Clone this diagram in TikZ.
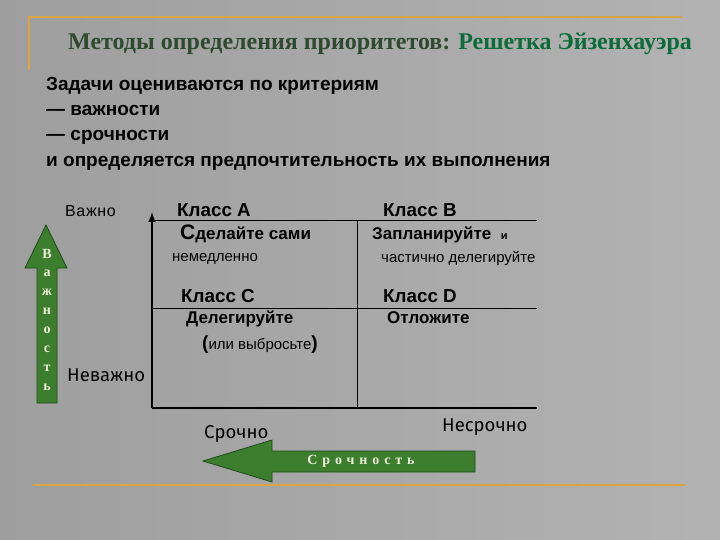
\documentclass[tikz,border=0pt]{standalone}
\usepackage{fontspec}
\setmainfont{Liberation Serif}
\setsansfont{Liberation Sans}
\newfontfamily\handfont{Fira Sans}

\definecolor{gold}{HTML}{D9A441}
\definecolor{arrowgreen}{HTML}{3D7D2E}
\definecolor{arrowedge}{HTML}{1E4A1A}
\definecolor{titledark}{HTML}{2F4A30}
\definecolor{titlegreen}{HTML}{0B6B3A}
\definecolor{lettercream}{HTML}{EEF0D8}

\begin{document}
\begin{tikzpicture}[x=1pt,y=-1pt]

  \tikzstyle{frame}=[line width=2.5pt, gold]
  \tikzstyle{body}=[font=\sffamily\bfseries\fontsize{19}{21}\selectfont, anchor=base west, inner sep=0]
  \tikzstyle{klass}=[font=\sffamily\bfseries\fontsize{18.8}{20}\selectfont, anchor=base west, inner sep=0]
  \tikzstyle{action}=[font=\sffamily\bfseries\fontsize{17}{19}\selectfont, anchor=base west, inner sep=0]
  \tikzstyle{note}=[font=\sffamily\fontsize{15}{17}\selectfont, anchor=base west, inner sep=0]
  \tikzstyle{hand}=[font=\handfont\fontsize{18.5}{20}\selectfont, anchor=base west, inner sep=0]
  \tikzstyle{axis}=[line width=2.4pt]
  \tikzstyle{cell}=[line width=1pt]
  \tikzstyle{bigarrow}=[fill=arrowgreen, draw=arrowedge, line width=0.8pt]

  \useasboundingbox (0,0) rectangle (720,540);
  \shade[left color=black!38, middle color=black!8, right color=black!30] (0,0) rectangle (720,540);

  % frame lines
  \draw[frame] (29,70) -- (29,17) -- (682,17);
  \draw[frame] (33,485) -- (686,485);

  % title
  \node[anchor=base west, inner sep=0, font=\bfseries\fontsize{24}{26}\selectfont] (title) at (68,50)
    {\textcolor{titledark}{Методы определения приоритетов:} \textcolor{titlegreen}{Решетка Эйзенхауэра}};

  % criteria text
  \node[body] (line1) at (46,91) {Задачи оцениваются по критериям};
  \node[body] (line2) at (46,116) {— важности};
  \node[body] (line3) at (46,141) {— срочности};
  \node[body] (line4) at (46,167) {и определяется предпочтительность их выполнения};

  % grid
  \coordinate (origin) at (152,408);
  \coordinate (top) at (152,212);
  \coordinate (right) at (537,408);
  \coordinate (rowtop) at (537,221);
  \coordinate (rowmid) at (537,308);
  \coordinate (coltop) at (357,221);
  \draw[axis,-latex] (origin) -- (top);
  \draw[axis] (origin) -- (right);
  \draw[cell] (origin |- rowtop) -- (rowtop);
  \draw[cell] (origin |- rowmid) -- (rowmid);
  \draw[cell] (coltop) -- (coltop |- origin);

  % cells
  \node[klass] (classA) at (177,216) {Класс A};
  \node[klass] (classB) at (383,216) {Класс B};
  \node[action] (doA) at (180,240) {{\fontsize{21}{22}\selectfont С}делайте сами};
  \node[note] (nowA) at (172,261) {немедленно};
  \node[action] (doB) at (372,240) {Запланируйте \ {\fontsize{11}{12}\selectfont и}};
  \node[note] (nowB) at (381,262) {частично делегируйте};
  \node[klass] (classC) at (181,302) {Класс C};
  \node[klass] (classD) at (383,302) {Класс D};
  \node[action] (doC) at (186,323) {Делегируйте};
  \node[note] (nowC) at (202,349) {{\bfseries\fontsize{19}{20}\selectfont(}или выбросьте{\bfseries\fontsize{19}{20}\selectfont)}};
  \node[action] (doD) at (387,323) {Отложите};

  % axis labels
  \node[note, font=\sffamily\fontsize{16}{18}\selectfont\addfontfeatures{LetterSpace=4}] (important) at (65,216) {Важно};
  \node[hand] (unimportant) at (67,381) {Неважно};
  \node[hand] (urgent) at (204,438) {Срочно};
  \node[hand] (noturgent) at (442,431) {Несрочно};

  % importance arrow
  \draw[bigarrow] (37,403) -- (37,268) -- (25,268) -- (46,225) -- (67,268) -- (57,268) -- (57,403) -- cycle;
  \foreach \l [count=\i] in {В,а,ж,н,о,с,т,ь}
    {
      \pgfmathsetmacro{\y}{254 + (\i - 1) * 19}
      \node[inner sep=0, text=lettercream, font=\bfseries\fontsize{14}{15}\selectfont] (imp\i) at (47,\y) {\l};
    }

  % urgency arrow
  \draw[bigarrow] (475,451) -- (272,451) -- (272,440) -- (203,461) -- (272,482) -- (272,472) -- (475,472) -- cycle;
  \node[inner sep=0, text=lettercream, font=\bfseries\fontsize{14}{15}\selectfont\addfontfeatures{LetterSpace=35}] (urgency) at (361,461) {Срочность};

\end{tikzpicture}
\end{document}
